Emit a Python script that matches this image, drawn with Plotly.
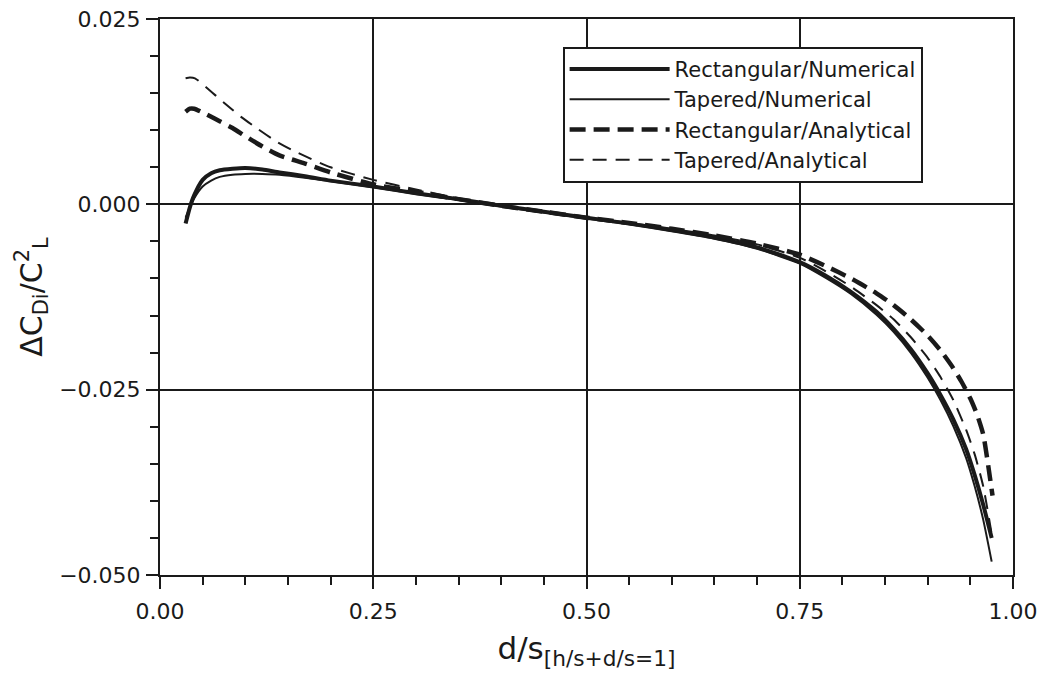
import plotly.graph_objects as go

# ---- data ----
num_x = [0.030, 0.035, 0.040, 0.050, 0.060, 0.070, 0.085, 0.100, 0.120, 0.140, 0.170, 0.200,
         0.250, 0.300, 0.350, 0.400, 0.450, 0.500, 0.550, 0.600, 0.650, 0.700, 0.750, 0.780,
         0.810, 0.840, 0.860, 0.880, 0.900, 0.915, 0.930, 0.945, 0.955, 0.965, 0.975]
rect_num_y = [-0.0026, -0.0004, 0.0012, 0.0033, 0.0042, 0.0046, 0.0048, 0.0049, 0.0047, 0.0043,
              0.0038, 0.0032, 0.0024, 0.0015, 0.0007, -0.0002, -0.0010, -0.0018, -0.0026,
              -0.0035, -0.0045, -0.0058, -0.0078, -0.0096, -0.0118, -0.0145, -0.0168, -0.0195,
              -0.0228, -0.0257, -0.0290, -0.0330, -0.0365, -0.0405, -0.0450]
tap_num_y = [-0.0018, -0.0004, 0.0008, 0.0024, 0.0032, 0.0037, 0.0040, 0.0041, 0.0041, 0.0040,
             0.0036, 0.0031, 0.0023, 0.0014, 0.0006, -0.0003, -0.0011, -0.0019, -0.0027,
             -0.0036, -0.0046, -0.0060, -0.0080, -0.0099, -0.0121, -0.0149, -0.0172, -0.0200,
             -0.0234, -0.0264, -0.0299, -0.0342, -0.0380, -0.0425, -0.0482]

rect_ana_x = [0.030, 0.035, 0.040, 0.050, 0.060, 0.070, 0.085, 0.100, 0.120, 0.140, 0.170,
              0.200, 0.250, 0.300, 0.350, 0.400, 0.450, 0.500, 0.550, 0.600, 0.650, 0.700,
              0.750, 0.780, 0.810, 0.840, 0.860, 0.880, 0.900, 0.915, 0.930, 0.940, 0.950,
              0.958, 0.965, 0.970, 0.976]
rect_ana_y = [0.0125, 0.0129, 0.0129, 0.0124, 0.0118, 0.0112, 0.0103, 0.0092, 0.0078, 0.0066,
              0.0055, 0.0043, 0.0027, 0.0017, 0.0007, -0.0002, -0.0010, -0.0018, -0.0025,
              -0.0033, -0.0042, -0.0053, -0.0068, -0.0083, -0.0100, -0.0120, -0.0136, -0.0155,
              -0.0177, -0.0197, -0.0221, -0.0240, -0.0262, -0.0284, -0.0310, -0.0345, -0.0393]

tap_ana_x = [0.030, 0.035, 0.041, 0.054, 0.075, 0.095, 0.113, 0.136, 0.157, 0.200, 0.250,
             0.300, 0.350, 0.400, 0.450, 0.500, 0.550, 0.600, 0.650, 0.700, 0.750, 0.780,
             0.810, 0.840, 0.860, 0.880, 0.900, 0.915, 0.930, 0.945, 0.955, 0.965, 0.975]
tap_ana_y = [0.0170, 0.0171, 0.0170, 0.0158, 0.0137, 0.0118, 0.0103, 0.0085, 0.0072, 0.0050,
             0.0033, 0.0020, 0.0008, -0.0002, -0.0010, -0.0018, -0.0025, -0.0033, -0.0042,
             -0.0054, -0.0072, -0.0090, -0.0111, -0.0136, -0.0155, -0.0179, -0.0207, -0.0233,
             -0.0264, -0.0304, -0.0337, -0.0380, -0.0445]

x_ticks = [0.0, 0.25, 0.5, 0.75, 1.0]
y_ticks = [-0.050, -0.025, 0.0, 0.025]

FONT = "DejaVu Sans"
INK = "#1a1a1a"

fig = go.Figure()
fig.add_trace(go.Scatter(x=num_x, y=rect_num_y, mode="lines", name="Rectangular/Numerical",
                         line=dict(color=INK, width=4, shape="spline", smoothing=0.6)))
fig.add_trace(go.Scatter(x=num_x, y=tap_num_y, mode="lines", name="Tapered/Numerical",
                         line=dict(color=INK, width=2, shape="spline", smoothing=0.6)))
fig.add_trace(go.Scatter(x=rect_ana_x, y=rect_ana_y, mode="lines", name="Rectangular/Analytical",
                         line=dict(color=INK, width=4.5, dash="16px,8px", shape="spline", smoothing=0.6)))
fig.add_trace(go.Scatter(x=tap_ana_x, y=tap_ana_y, mode="lines", name="Tapered/Analytical",
                         line=dict(color=INK, width=2, dash="14px,9px", shape="spline", smoothing=0.6)))

axis_common = dict(
    showline=True, linecolor=INK, linewidth=2, mirror=True,
    showgrid=True, gridcolor=INK, gridwidth=1.5,
    zeroline=False, automargin=False,
    ticks="outside", ticklen=12, tickwidth=2, tickcolor=INK,
    tickfont=dict(family=FONT, size=22, color=INK),
)

fig.update_xaxes(
    range=[0, 1], tickvals=x_ticks, tickformat=".2f",
    minor=dict(dtick=0.05, ticks="outside", ticklen=8, tickwidth=1.5, tickcolor=INK, showgrid=False),
    title=dict(text="d/s<sub>[h/s+d/s=1]</sub>", font=dict(family=FONT, size=31, color=INK), standoff=14),
    ticklabelstandoff=4,
    **axis_common,
)
fig.update_yaxes(
    range=[-0.050, 0.025], tickvals=y_ticks, tickformat=".3f",
    minor=dict(dtick=0.005, ticks="outside", ticklen=8, tickwidth=1.5, tickcolor=INK, showgrid=False),
    title=dict(text="ΔC<sub>Di</sub>/C<sup>2</sup><sub>L</sub>", font=dict(family=FONT, size=30, color=INK), standoff=8),
    ticklabelstandoff=1,
    **axis_common,
)

fig.update_layout(
    width=1041, height=684,
    margin=dict(l=160, r=28, t=19, b=109),
    paper_bgcolor="white", plot_bgcolor="white",
    showlegend=True,
    legend=dict(x=0.472, y=0.95, xanchor="left", yanchor="top",
                bgcolor="white", bordercolor=INK, borderwidth=2,
                font=dict(family=FONT, size=21, color=INK),
                itemwidth=100, tracegroupgap=0),
)

fig.write_html("out.html",
               config={"displayModeBar": False},
               post_script="document.body.style.margin='0';document.body.style.padding='0';")
